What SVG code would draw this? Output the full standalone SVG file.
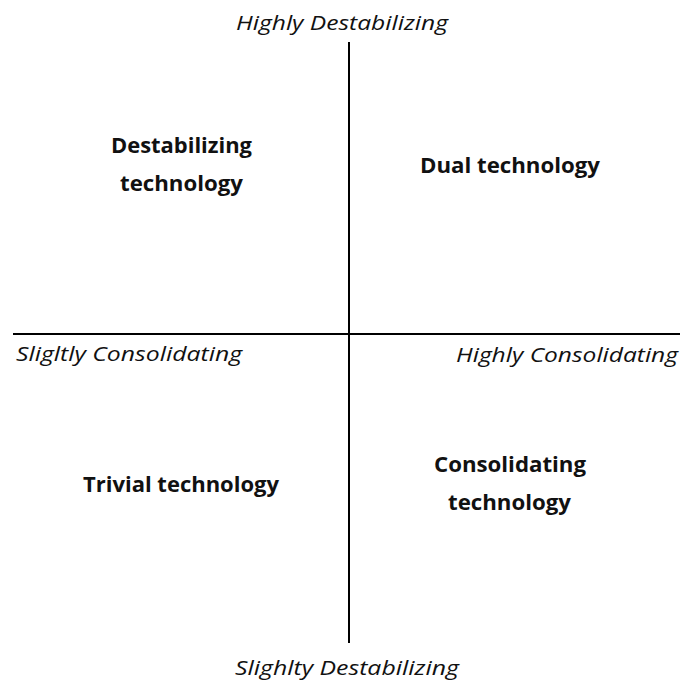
<svg xmlns="http://www.w3.org/2000/svg" width="680" height="682" viewBox="0 0 680 682">
<style>
.ax{font-family:"Open Sans","Liberation Sans",sans-serif;font-style:italic;font-size:20px;fill:#111}
.q{font-family:"Open Sans","Liberation Sans",sans-serif;font-weight:bold;font-size:22px;fill:#111;text-anchor:middle}
.ln{stroke:#000;stroke-width:2}
</style>
<rect width="680" height="682" fill="#fff"/>
<g id="connectors">
<line class="ln" x1="349" y1="42" x2="349" y2="643"/>
<line class="ln" x1="13" y1="334" x2="680" y2="334"/>
</g>
<g id="axis-top"><text class="ax" x="236" y="30" textLength="212" lengthAdjust="spacingAndGlyphs">Highly Destabilizing</text></g>
<g id="axis-left"><text class="ax" x="16" y="361" textLength="226" lengthAdjust="spacingAndGlyphs">Sligltly Consolidating</text></g>
<g id="axis-right"><text class="ax" x="456" y="362" textLength="222" lengthAdjust="spacingAndGlyphs">Highly Consolidating</text></g>
<g id="axis-bottom"><text class="ax" x="235" y="675" textLength="224" lengthAdjust="spacingAndGlyphs">Slighlty Destabilizing</text></g>
<g id="q-destabilizing"><text class="q" x="181.5" y="153" textLength="141" lengthAdjust="spacingAndGlyphs">Destabilizing</text><text class="q" x="181.5" y="191" textLength="123" lengthAdjust="spacingAndGlyphs">technology</text></g>
<g id="q-dual"><text class="q" x="510" y="173" textLength="180" lengthAdjust="spacingAndGlyphs">Dual technology</text></g>
<g id="q-trivial"><text class="q" x="181" y="492" textLength="196" lengthAdjust="spacingAndGlyphs">Trivial technology</text></g>
<g id="q-consolidating"><text class="q" x="510" y="472" textLength="152" lengthAdjust="spacingAndGlyphs">Consolidating</text><text class="q" x="509.5" y="510" textLength="123" lengthAdjust="spacingAndGlyphs">technology</text></g>
</svg>
